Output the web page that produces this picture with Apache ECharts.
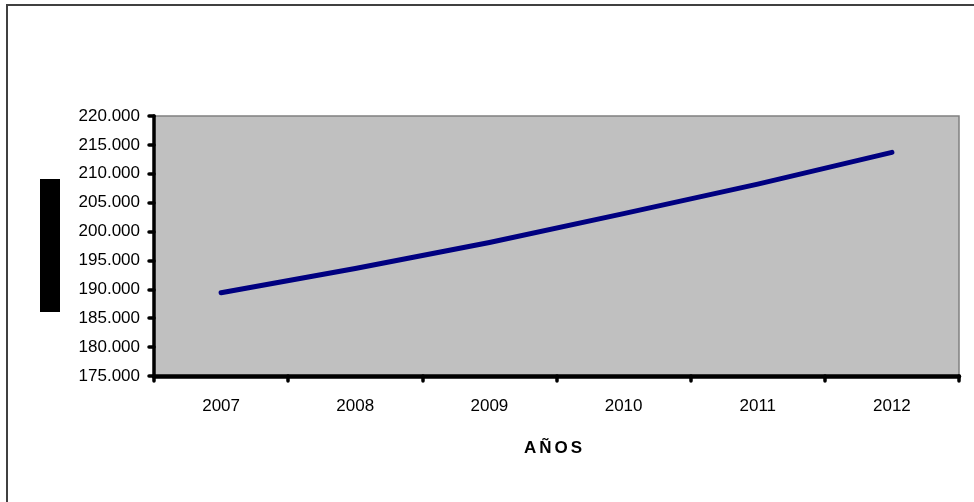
<!DOCTYPE html>
<html>
<head>
<meta charset="utf-8">
<script src="https://cdn.jsdelivr.net/npm/echarts@6/dist/echarts.min.js"></script>
<style>
  html, body { margin: 0; padding: 0; background: #fff; }
  #chart { width: 974px; height: 502px; }
</style>
</head>
<body>
<div id="chart"></div>
<script>
// Población por año
const years = ['2007', '2008', '2009', '2010', '2011', '2012'];
const poblacion = [189400, 193600, 198100, 203100, 208200, 213700];
const yMin = 175000;
const yMax = 220000;
const yStep = 5000;
const xTitle = 'AÑOS';

// 220000 -> "220.000"
function fmt(v) {
  return String(Math.round(v)).replace(/\B(?=(\d{3})+(?!\d))/g, '.');
}

// spaced-out axis title: each letter as its own rich-text run
const spacedTitle = xTitle.split('').map(ch => '{l|' + ch + '}').join('');

const chart = echarts.init(document.getElementById('chart'), null, { renderer: 'canvas' });

chart.setOption({
  animation: false,
  backgroundColor: '#ffffff',
  textStyle: { fontFamily: 'Liberation Sans, Arial, sans-serif' },
  grid: {
    left: 154,
    right: 15,
    top: 116,
    bottom: 126,
    show: true,
    backgroundColor: '#C0C0C0',
    borderColor: '#808080',
    borderWidth: 1.5
  },
  xAxis: {
    type: 'category',
    data: years,
    boundaryGap: true,
    axisLine: { show: true, lineStyle: { color: '#000', width: 4.5, cap: 'round' } },
    axisTick: { show: true, alignWithLabel: false, length: 5, lineStyle: { color: '#000', width: 3.5, cap: 'round' } },
    axisLabel: { color: '#000', fontSize: 17, margin: 22, fontFamily: 'Liberation Sans, Arial, sans-serif' },
    splitLine: { show: false }
  },
  yAxis: {
    type: 'value',
    min: yMin,
    max: yMax,
    interval: yStep,
    axisLine: { show: true, lineStyle: { color: '#000', width: 3.5, cap: 'round' } },
    axisTick: { show: true, length: 5, lineStyle: { color: '#000', width: 3.5, cap: 'round' } },
    axisLabel: { color: '#000', fontSize: 17, margin: 14, formatter: fmt, fontFamily: 'Liberation Sans, Arial, sans-serif' },
    splitLine: { show: false }
  },
  series: [{
    type: 'line',
    data: poblacion,
    showSymbol: false,
    symbol: 'none',
    lineStyle: { color: '#000080', width: 5, cap: 'round', join: 'round' }
  }],
  graphic: [
    {
      type: 'rect',
      z: 0,
      shape: { x: 7, y: 5, width: 1000, height: 520 },
      style: { fill: 'none', stroke: '#404040', lineWidth: 2 }
    },
    {
      type: 'rect',
      shape: { x: 40, y: 179, width: 20, height: 133 },
      style: { fill: '#000' }
    },
    {
      type: 'text',
      x: 553,
      y: 448,
      style: {
        text: spacedTitle,
        fill: '#000',
        align: 'center',
        verticalAlign: 'middle',
        rich: {
          l: {
            fontFamily: 'Liberation Sans, Arial, sans-serif',
            fontWeight: 'bold',
            fontSize: 17,
            color: '#000',
            padding: [0, 1.5]
          }
        }
      }
    }
  ]
});
</script>
</body>
</html>
